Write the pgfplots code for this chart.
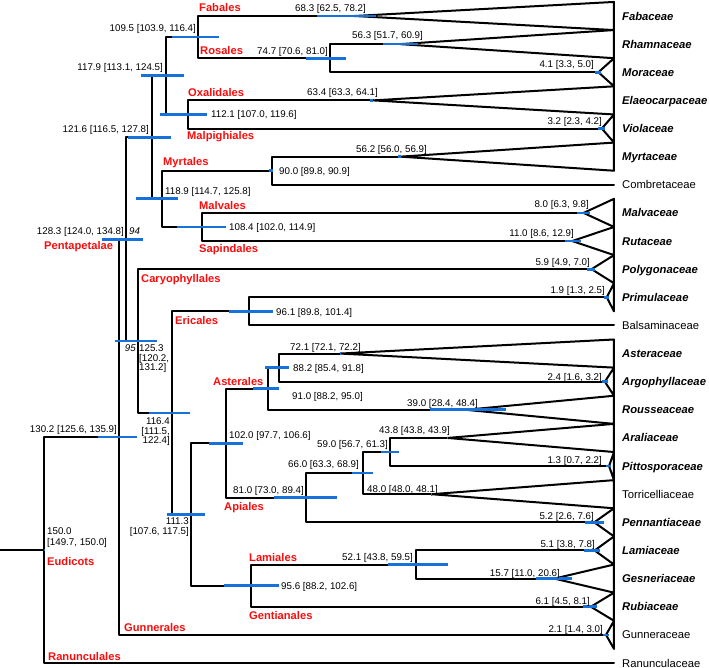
\documentclass[border=0pt]{standalone}
\usepackage{fontspec}
\setmainfont{Liberation Sans}
\usepackage{pgfplots}
\pgfplotsset{compat=1.18}
\definecolor{hpdblue}{RGB}{22,114,218}
\definecolor{cladered}{RGB}{250,12,12}
\newcommand\nf{\fontsize{9.8}{9.5}\selectfont}
\newcommand\cf{\fontsize{11.2}{12}\selectfont\bfseries}
\newcommand\tf{\fontsize{11.3}{12}\selectfont}
\tikzset{
  br/.style={black, line width=2bp, line join=round, line cap=round, mark=none},
  hpd/.style={hpdblue, line width=2.7bp, line cap=butt, mark=none},
  num/.style={inner sep=0pt, text height=7bp, text depth=0pt, font=\nf},
  cl/.style={inner sep=0pt, text height=8bp, text depth=0pt, font=\cf, text=cladered, anchor=west},
  tax/.style={inner sep=0pt, text height=8.1bp, text depth=0pt, font=\tf, anchor=west},
}
\begin{document}
\begin{tikzpicture}
\begin{axis}[
  scale only axis, width=709bp, height=668bp,
  xmin=-25, xmax=161.579, ymin=-0.5688, ymax=23.1785,
  x dir=reverse, y dir=reverse, hide axis, clip=false,
]
% root stem
\addplot[br] coordinates {(161.58,18.9834) (150,18.9834)};
% internal nodes (elbows)
\addplot[br] coordinates {(130.2,14.9668) (150,14.9668) (150,23) (0,23)};
\addplot[br] coordinates {(128.3,7.9336) (130.2,7.9336) (130.2,22) (2.1,22)};
\addplot[br] coordinates {(121.6,4.3125) (128.3,4.3125) (128.3,11.5547) (125.3,11.5547)};
\addplot[br] coordinates {(117.9,2.125) (121.6,2.125) (121.6,6.5) (118.9,6.5)};
\addplot[br] coordinates {(109.5,0.75) (117.9,0.75) (117.9,3.5) (112.1,3.5)};
\addplot[br] coordinates {(68.3,0) (109.5,0) (109.5,1.5) (74.7,1.5)};
\addplot[br] coordinates {(56.3,1) (74.7,1) (74.7,2) (4.1,2)};
\addplot[br] coordinates {(63.4,3) (112.1,3) (112.1,4) (3.2,4)};
\addplot[br] coordinates {(90.0,5.5) (118.9,5.5) (118.9,7.5) (108.4,7.5)};
\addplot[br] coordinates {(56.2,5) (90.0,5) (90.0,6) (0,6)};
\addplot[br] coordinates {(8.0,7) (108.4,7) (108.4,8) (11.0,8)};
\addplot[br] coordinates {(5.9,9) (125.3,9) (125.3,14.1094) (116.4,14.1094)};
\addplot[br] coordinates {(96.1,10.5) (116.4,10.5) (116.4,17.7188) (111.3,17.7188)};
\addplot[br] coordinates {(1.9,10) (96.1,10) (96.1,11) (0,11)};
\addplot[br] coordinates {(102.0,15.1875) (111.3,15.1875) (111.3,20.25) (95.6,20.25)};
\addplot[br] coordinates {(91.0,13.25) (102.0,13.25) (102.0,17.125) (81.0,17.125)};
\addplot[br] coordinates {(88.2,12.5) (91.0,12.5) (91.0,14) (39.0,14)};
\addplot[br] coordinates {(72.1,12) (88.2,12) (88.2,13) (2.4,13)};
\addplot[br] coordinates {(66.0,16.25) (81.0,16.25) (81.0,18) (5.2,18)};
\addplot[br] coordinates {(59.0,15.5) (66.0,15.5) (66.0,17) (48.0,17)};
\addplot[br] coordinates {(43.8,15) (59.0,15) (59.0,16) (1.3,16)};
\addplot[br] coordinates {(52.1,19.5) (95.6,19.5) (95.6,21) (6.1,21)};
\addplot[br] coordinates {(5.1,19) (52.1,19) (52.1,20) (15.7,20)};
% collapsed clades (triangles)
\addplot[br] coordinates {(68.3,0) (0,-0.5) (0,0.5) (68.3,0)};
\addplot[br] coordinates {(56.3,1) (0,0.5) (0,1.5) (56.3,1)};
\addplot[br] coordinates {(4.1,2) (0,1.5) (0,2.5) (4.1,2)};
\addplot[br] coordinates {(63.4,3) (0,2.5) (0,3.5) (63.4,3)};
\addplot[br] coordinates {(3.2,4) (0,3.5) (0,4.5) (3.2,4)};
\addplot[br] coordinates {(56.2,5) (0,4.5) (0,5.5) (56.2,5)};
\addplot[br] coordinates {(8.0,7) (0,6.5) (0,7.5) (8.0,7)};
\addplot[br] coordinates {(11.0,8) (0,7.5) (0,8.5) (11.0,8)};
\addplot[br] coordinates {(5.9,9) (0,8.5) (0,9.5) (5.9,9)};
\addplot[br] coordinates {(1.9,10) (0,9.5) (0,10.5) (1.9,10)};
\addplot[br] coordinates {(72.1,12) (0,11.5) (0,12.5) (72.1,12)};
\addplot[br] coordinates {(2.4,13) (0,12.5) (0,13.5) (2.4,13)};
\addplot[br] coordinates {(39.0,14) (0,13.5) (0,14.5) (39.0,14)};
\addplot[br] coordinates {(43.8,15) (0,14.5) (0,15.5) (43.8,15)};
\addplot[br] coordinates {(1.3,16) (0,15.5) (0,16.5) (1.3,16)};
\addplot[br] coordinates {(48.0,17) (0,16.5) (0,17.5) (48.0,17)};
\addplot[br] coordinates {(5.2,18) (0,17.5) (0,18.5) (5.2,18)};
\addplot[br] coordinates {(5.1,19) (0,18.5) (0,19.5) (5.1,19)};
\addplot[br] coordinates {(15.7,20) (0,19.5) (0,20.5) (15.7,20)};
\addplot[br] coordinates {(6.1,21) (0,20.5) (0,21.5) (6.1,21)};
\addplot[br] coordinates {(2.1,22) (0,21.5) (0,22.5) (2.1,22)};
% 95% HPD bars
\addplot[hpd] coordinates {(78.2,0) (62.5,0)};
\addplot[hpd] coordinates {(116.4,0.75) (103.9,0.75)};
\addplot[hpd] coordinates {(81.0,1.5) (70.6,1.5)};
\addplot[hpd] coordinates {(60.9,1) (51.7,1)};
\addplot[hpd] coordinates {(5.0,2) (3.3,2)};
\addplot[hpd] coordinates {(124.5,2.125) (113.1,2.125)};
\addplot[hpd] coordinates {(64.1,3) (63.3,3)};
\addplot[hpd] coordinates {(119.6,3.5) (107.0,3.5)};
\addplot[hpd] coordinates {(4.2,4) (2.3,4)};
\addplot[hpd] coordinates {(127.8,4.3125) (116.5,4.3125)};
\addplot[hpd] coordinates {(56.9,5) (56.0,5)};
\addplot[hpd] coordinates {(90.9,5.5) (89.8,5.5)};
\addplot[hpd] coordinates {(125.8,6.5) (114.7,6.5)};
\addplot[hpd] coordinates {(9.8,7) (6.3,7)};
\addplot[hpd] coordinates {(114.9,7.5) (102.0,7.5)};
\addplot[hpd] coordinates {(12.9,8) (8.6,8)};
\addplot[hpd] coordinates {(134.8,7.9336) (124.0,7.9336)};
\addplot[hpd] coordinates {(7.0,9) (4.9,9)};
\addplot[hpd] coordinates {(2.5,10) (1.3,10)};
\addplot[hpd] coordinates {(101.4,10.5) (89.8,10.5)};
\addplot[hpd] coordinates {(131.2,11.5547) (120.2,11.5547)};
\addplot[hpd] coordinates {(72.2,12) (72.1,12)};
\addplot[hpd] coordinates {(91.8,12.5) (85.4,12.5)};
\addplot[hpd] coordinates {(3.2,13) (1.6,13)};
\addplot[hpd] coordinates {(95.0,13.25) (88.2,13.25)};
\addplot[hpd] coordinates {(48.4,14) (28.4,14)};
\addplot[hpd] coordinates {(122.4,14.1094) (111.5,14.1094)};
\addplot[hpd] coordinates {(135.9,14.9668) (125.6,14.9668)};
\addplot[hpd] coordinates {(43.9,15) (43.8,15)};
\addplot[hpd] coordinates {(106.6,15.1875) (97.7,15.1875)};
\addplot[hpd] coordinates {(61.3,15.5) (56.7,15.5)};
\addplot[hpd] coordinates {(2.2,16) (0.7,16)};
\addplot[hpd] coordinates {(68.9,16.25) (63.3,16.25)};
\addplot[hpd] coordinates {(48.1,17) (48.0,17)};
\addplot[hpd] coordinates {(89.4,17.125) (73.0,17.125)};
\addplot[hpd] coordinates {(117.5,17.7188) (107.6,17.7188)};
\addplot[hpd] coordinates {(7.6,18) (2.6,18)};
\addplot[hpd] coordinates {(150.0,18.9834) (149.7,18.9834)};
\addplot[hpd] coordinates {(7.8,19) (3.8,19)};
\addplot[hpd] coordinates {(59.5,19.5) (43.8,19.5)};
\addplot[hpd] coordinates {(20.6,20) (11.0,20)};
\addplot[hpd] coordinates {(102.6,20.25) (88.2,20.25)};
\addplot[hpd] coordinates {(8.1,21) (4.5,21)};
\addplot[hpd] coordinates {(3.0,22) (1.4,22)};
% taxon names
\node[tax] at (axis cs:-2.1,0) {\bfseries\itshape Fabaceae};
\node[tax] at (axis cs:-2.1,1) {\bfseries\itshape Rhamnaceae};
\node[tax] at (axis cs:-2.1,2) {\bfseries\itshape Moraceae};
\node[tax] at (axis cs:-2.1,3) {\bfseries\itshape Elaeocarpaceae};
\node[tax] at (axis cs:-2.1,4) {\bfseries\itshape Violaceae};
\node[tax] at (axis cs:-2.1,5) {\bfseries\itshape Myrtaceae};
\node[tax] at (axis cs:-2.1,6) {Combretaceae};
\node[tax] at (axis cs:-2.1,7) {\bfseries\itshape Malvaceae};
\node[tax] at (axis cs:-2.1,8) {\bfseries\itshape Rutaceae};
\node[tax] at (axis cs:-2.1,9) {\bfseries\itshape Polygonaceae};
\node[tax] at (axis cs:-2.1,10) {\bfseries\itshape Primulaceae};
\node[tax] at (axis cs:-2.1,11) {Balsaminaceae};
\node[tax] at (axis cs:-2.1,12) {\bfseries\itshape Asteraceae};
\node[tax] at (axis cs:-2.1,13) {\bfseries\itshape Argophyllaceae};
\node[tax] at (axis cs:-2.1,14) {\bfseries\itshape Rousseaceae};
\node[tax] at (axis cs:-2.1,15) {\bfseries\itshape Araliaceae};
\node[tax] at (axis cs:-2.1,16) {\bfseries\itshape Pittosporaceae};
\node[tax] at (axis cs:-2.1,17) {Torricelliaceae};
\node[tax] at (axis cs:-2.1,18) {\bfseries\itshape Pennantiaceae};
\node[tax] at (axis cs:-2.1,19) {\bfseries\itshape Lamiaceae};
\node[tax] at (axis cs:-2.1,20) {\bfseries\itshape Gesneriaceae};
\node[tax] at (axis cs:-2.1,21) {\bfseries\itshape Rubiaceae};
\node[tax] at (axis cs:-2.1,22) {Gunneraceae};
\node[tax] at (axis cs:-2.1,23) {Ranunculaceae};
\end{axis}
\begin{scope}[yshift=668bp, x=1bp, y=-1bp]
% node ages, right aligned
\node[num, anchor=east] at (366,8) {68.3 [62.5, 78.2]};
\node[num, anchor=east] at (196,28) {109.5 [103.9, 116.4]};
\node[num, anchor=east] at (328,51) {74.7 [70.6, 81.0]};
\node[num, anchor=east] at (423,35) {56.3 [51.7, 60.9]};
\node[num, anchor=east] at (163,67) {117.9 [113.1, 124.5]};
\node[num, anchor=east] at (594,64) {4.1 [3.3, 5.0]};
\node[num, anchor=east] at (378,92) {63.4 [63.3, 64.1]};
\node[num, anchor=east] at (602,121) {3.2 [2.3, 4.2]};
\node[num, anchor=east] at (149,129) {121.6 [116.5, 127.8]};
\node[num, anchor=east] at (427,149) {56.2 [56.0, 56.9]};
\node[num, anchor=east] at (589,204) {8.0 [6.3, 9.8]};
\node[num, anchor=east] at (574,233) {11.0 [8.6, 12.9]};
\node[num, anchor=east] at (124,231) {128.3 [124.0, 134.8]};
\node[num, anchor=east] at (590,262) {5.9 [4.9, 7.0]};
\node[num, anchor=east] at (605,290) {1.9 [1.3, 2.5]};
\node[num, anchor=east] at (602,377) {2.4 [1.6, 3.2]};
\node[num, anchor=east] at (136,348) {\itshape 95};
\node[num, anchor=east] at (170,421) {116.4};
\node[num, anchor=east] at (170,431) {[111.5,};
\node[num, anchor=east] at (170,440) {122.4]};
\node[num, anchor=east] at (117,429) {130.2 [125.6, 135.9]};
\node[num, anchor=east] at (388,444) {59.0 [56.7, 61.3]};
\node[num, anchor=east] at (359,464) {66.0 [63.3, 68.9]};
\node[num, anchor=east] at (602,460) {1.3 [0.7, 2.2]};
\node[num, anchor=east] at (304,490) {81.0 [73.0, 89.4]};
\node[num, anchor=east] at (189,521) {111.3};
\node[num, anchor=east] at (189,531) {[107.6, 117.5]};
\node[num, anchor=east] at (594,516) {5.2 [2.6, 7.6]};
\node[num, anchor=east] at (595,544) {5.1 [3.8, 7.8]};
\node[num, anchor=east] at (413,557) {52.1 [43.8, 59.5]};
\node[num, anchor=east] at (560,573) {15.7 [11.0, 20.6]};
\node[num, anchor=east] at (590,601) {6.1 [4.5, 8.1]};
\node[num, anchor=east] at (603,629) {2.1 [1.4, 3.0]};
% node ages, left aligned
\node[num, anchor=west] at (211,114) {112.1 [107.0, 119.6]};
\node[num, anchor=west] at (279,171) {90.0 [89.8, 90.9]};
\node[num, anchor=west] at (165,191) {118.9 [114.7, 125.8]};
\node[num, anchor=west] at (229,227) {108.4 [102.0, 114.9]};
\node[num, anchor=west] at (129,231) {\itshape 94};
\node[num, anchor=west] at (276,312) {96.1 [89.8, 101.4]};
\node[num, anchor=west] at (290,347) {72.1 [72.1, 72.2]};
\node[num, anchor=west] at (293,368) {88.2 [85.4, 91.8]};
\node[num, anchor=west] at (139,348) {125.3};
\node[num, anchor=west] at (139,358) {[120.2,};
\node[num, anchor=west] at (139,367) {131.2]};
\node[num, anchor=west] at (407,403) {39.0 [28.4, 48.4]};
\node[num, anchor=west] at (292,396) {91.0 [88.2, 95.0]};
\node[num, anchor=west] at (379,430) {43.8 [43.8, 43.9]};
\node[num, anchor=west] at (229,435) {102.0 [97.7, 106.6]};
\node[num, anchor=west] at (367,489) {48.0 [48.0, 48.1]};
\node[num, anchor=west] at (47,531) {150.0};
\node[num, anchor=west] at (47,542) {[149.7, 150.0]};
\node[num, anchor=west] at (281,586) {95.6 [88.2, 102.6]};
% clade names
\node[cl] at (199,8) {Fabales};
\node[cl] at (200,51) {Rosales};
\node[cl] at (188,93) {Oxalidales};
\node[cl] at (187,136) {Malpighiales};
\node[cl] at (163,162) {Myrtales};
\node[cl] at (199,206) {Malvales};
\node[cl] at (199,249) {Sapindales};
\node[cl] at (44,246) {Pentapetalae};
\node[cl] at (141,279) {Caryophyllales};
\node[cl] at (175,321) {Ericales};
\node[cl] at (213,382) {Asterales};
\node[cl] at (224,507) {Apiales};
\node[cl] at (249,558) {Lamiales};
\node[cl] at (249,616) {Gentianales};
\node[cl] at (124,628) {Gunnerales};
\node[cl] at (47,562) {Eudicots};
\node[cl] at (48,657) {Ranunculales};
\end{scope}
\pgfresetboundingbox
\useasboundingbox (0,0) rectangle (709bp,668bp);
\end{tikzpicture}
\end{document}
